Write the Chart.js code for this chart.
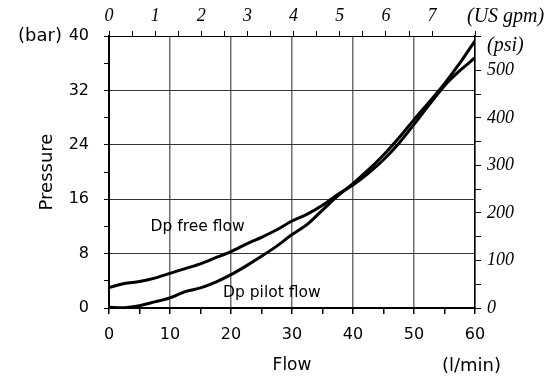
<!DOCTYPE html>
<html lang="en">
<head>
<meta charset="UTF-8">
<title>Pressure vs Flow</title>
<script src="https://cdn.jsdelivr.net/npm/chart.js"></script>
<style>
    body { margin: 0; background: #fff; }
</style>
</head>
<body>
<canvas id="flowChart" width="550" height="382"></canvas>
<script>
    // flow in l/min, pressure drop in bar
    const flow      = [0, 2.5, 5, 7.5, 10, 12.5, 15, 17.5, 20, 22.5, 25, 27.5, 30, 32.5, 35, 37.5, 40, 42.5, 45, 47.5, 50, 52.5, 55, 57.5, 60];
    const freeFlow  = [3.0, 3.6, 3.9, 4.4, 5.1, 5.8, 6.5, 7.4, 8.3, 9.4, 10.4, 11.5, 12.8, 13.8, 15.1, 16.7, 18.1, 19.8, 21.8, 24.2, 27.0, 29.9, 32.7, 34.9, 36.8];
    const pilotFlow = [0.1, 0.05, 0.35, 0.9, 1.5, 2.4, 2.95, 3.8, 4.9, 6.2, 7.6, 9.1, 10.8, 12.3, 14.4, 16.5, 18.3, 20.3, 22.5, 25.0, 27.7, 30.3, 33.0, 36.0, 39.3];

    const flowLabels = [0, 10, 20, 30, 40, 50, 60];
    const barLabels  = [0, 8, 16, 24, 32, 40];
    const gpmLabels  = [0, 1, 2, 3, 4, 5, 6, 7];
    const psiLabels  = [0, 100, 200, 300, 400, 500];
    const gpmMax = 7.93;   // top scale as drawn on the original
    const psiMax = 572;

    const sansFont  = { family: 'DejaVu Sans', size: 16 };
    const serifFont = { family: 'Liberation Serif', size: 18, style: 'italic' };

    function toPoints(ys) {
        return flow.map((f, i) => ({ x: f, y: ys[i] }));
    }

    // axis units and curve names
    const extraText = {
        id: 'extraText',
        afterDraw(chart) {
            const { ctx, scales: { x, y } } = chart;
            ctx.save();
            ctx.fillStyle = '#000';
            ctx.textBaseline = 'middle';
            ctx.textAlign = 'left';
            ctx.font = 'italic 20px "Liberation Serif"';
            ctx.fillText('(US gpm)', x.right - 8, 17);
            ctx.fillText('(psi)', x.right + 12, 46);
            ctx.font = '18px "DejaVu Sans"';
            ctx.fillText('(l/min)', x.right - 33, 366);
            ctx.textAlign = 'right';
            ctx.fillText('(bar)', 62, y.getPixelForValue(40));
            ctx.textAlign = 'left';
            ctx.font = '15.5px "DejaVu Sans"';
            ctx.fillText('Dp free flow', x.getPixelForValue(6.8), y.getPixelForValue(11.9));
            ctx.fillText('Dp pilot flow', x.getPixelForValue(18.7), y.getPixelForValue(2.2));
            ctx.restore();
        }
    };

    const ctx = document.getElementById('flowChart').getContext('2d');
    new Chart(ctx, {
        type: 'line',
        data: {
            datasets: [
                { label: 'Dp free flow', data: toPoints(freeFlow), xAxisID: 'x', yAxisID: 'y' },
                { label: 'Dp pilot flow', data: toPoints(pilotFlow), xAxisID: 'x', yAxisID: 'y' }
            ]
        },
        options: {
            responsive: false,
            animation: false,
            layout: { padding: 0 },
            plugins: {
                legend: { display: false },
                tooltip: { enabled: false }
            },
            elements: {
                point: { radius: 0 },
                line: { borderColor: '#000', borderWidth: 3, tension: 0.3, fill: false }
            },
            scales: {
                x: {
                    type: 'linear', position: 'bottom', min: 0, max: 60,
                    ticks: {
                        stepSize: 5, autoSkip: false, maxRotation: 0, padding: 11, color: '#000', font: sansFont,
                        callback: v => flowLabels.includes(v) ? v : ''
                    },
                    grid: {
                        color: c => (c.tick && flowLabels.includes(c.tick.value)) ? '#707070' : 'rgba(0,0,0,0)',
                        lineWidth: 1.5, tickColor: '#000', tickLength: 6
                    },
                    border: { color: '#000', width: 2 },
                    title: { display: true, text: 'Flow', color: '#000', font: { family: 'DejaVu Sans', size: 17 }, padding: { top: 0, bottom: 6 } },
                    afterFit: s => { s.height = 74; }
                },
                y: {
                    type: 'linear', position: 'left', min: 0, max: 40,
                    ticks: {
                        stepSize: 4, autoSkip: false, padding: 15, color: '#000', font: sansFont,
                        callback: v => barLabels.includes(v) ? v : ''
                    },
                    grid: {
                        color: c => (c.tick && barLabels.includes(c.tick.value)) ? '#333' : 'rgba(0,0,0,0)',
                        lineWidth: 1, tickColor: '#000', tickLength: 5
                    },
                    border: { color: '#000', width: 2 },
                    title: { display: true, text: 'Pressure', color: '#000', font: { family: 'DejaVu Sans', size: 18 }, padding: { top: 37, bottom: 0 } },
                    afterFit: s => { s.width = 109; }
                },
                x2: {
                    type: 'linear', position: 'top', min: 0, max: gpmMax,
                    ticks: {
                        stepSize: 0.5, autoSkip: false, maxRotation: 0, padding: 4, color: '#000', font: serifFont,
                        callback: v => gpmLabels.includes(v) ? v : ''
                    },
                    grid: { drawOnChartArea: false, color: '#000', tickColor: '#000', tickLength: 5 },
                    border: { color: '#000', width: 1 },
                    afterFit: s => { s.height = 36; }
                },
                y2: {
                    type: 'linear', position: 'right', min: 0, max: psiMax,
                    ticks: {
                        stepSize: 50, autoSkip: false, padding: 6, color: '#000', font: serifFont,
                        callback: v => psiLabels.includes(v) ? v : ''
                    },
                    grid: { drawOnChartArea: false, color: '#000', tickColor: '#000', tickLength: 6 },
                    border: { color: '#000', width: 1.5 },
                    afterFit: s => { s.width = 75; }
                }
            }
        },
        plugins: [extraText]
    });
</script>
</body>
</html>
